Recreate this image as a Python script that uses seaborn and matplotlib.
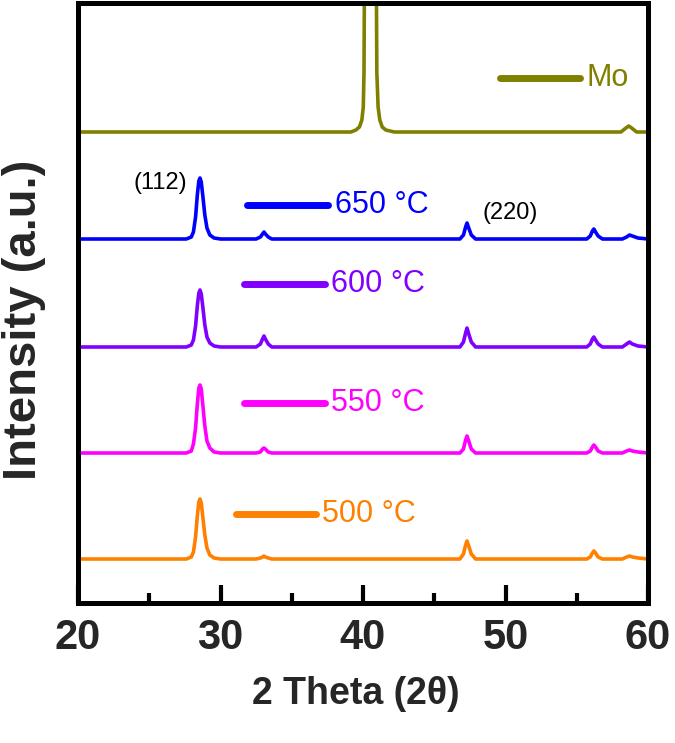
import matplotlib
matplotlib.use("Agg")
import numpy as np
import pandas as pd
import seaborn as sns
import matplotlib.pyplot as plt
from matplotlib.ticker import MultipleLocator

# ---------------- data ----------------
# CZTS samples share one 2-theta grid; intensities in arbitrary units above each baseline
two_theta = [20, 27.6, 27.95, 28.1, 28.25, 28.38, 28.48, 28.56, 28.65, 28.76, 28.9, 29.05, 29.25, 29.55, 30.0,
             32.5, 32.8, 32.95, 33.05, 33.15, 33.35, 33.6,
             46.8, 47.05, 47.2, 47.3, 47.42, 47.6, 47.9,
             55.7, 55.95, 56.1, 56.2, 56.32, 56.5, 56.8,
             58.2, 58.5, 58.7, 58.9, 59.3, 60]
int_650 = [0, 0, 2, 7, 22, 45, 58, 61, 57, 43, 24, 11, 4, 1, 0,
           0, 2, 5, 7, 5, 2, 0,
           0, 4, 12, 16, 11, 4, 0,
           0, 3, 8, 10, 7, 3, 0,
           0, 2, 4, 3, 1, 0]
int_600 = [0, 0, 2, 7, 21, 42, 54, 57, 53, 40, 22, 10, 4, 1, 0,
           0, 3, 8, 11, 8, 3, 0,
           0, 5, 14, 19, 13, 5, 0,
           0, 3, 8, 10, 7, 3, 0,
           0, 3, 5, 3, 1, 0]
int_550 = [0, 0, 2, 9, 25, 50, 65, 68, 64, 48, 27, 12, 5, 1, 0,
           0, 1, 4, 5, 4, 1, 0,
           0, 4, 13, 17, 12, 4, 0,
           0, 2, 6, 8, 6, 2, 0,
           0, 2, 3, 2, 1, 0]
int_500 = [0, 0, 2, 7, 22, 44, 57, 60, 56, 42, 24, 11, 4, 1, 0,
           0, 1, 2, 3, 2, 1, 0,
           0, 5, 14, 18, 13, 5, 0,
           0, 2, 6, 8, 6, 2, 0,
           0, 2, 3, 2, 1, 0]

mo_two_theta = [20, 39.15, 39.5, 39.75, 39.92, 40.02, 40.07, 40.12, 40.52, 40.92, 40.97,
                41.06, 41.18, 41.35, 41.6, 41.9, 42.2,
                58.1, 58.45, 58.65, 58.85, 59.2, 60]
mo_int = [0, 0, 2, 5, 12, 25, 60, 200, 900, 200, 60,
          25, 12, 5, 2, 1, 0,
          0, 4, 6, 4, 0, 0]

samples = ["500 °C", "550 °C", "600 °C", "650 °C", "Mo"]
offsets = [44, 150, 256, 364, 471]
colors = ["#FF8000", "#FF00FF", "#8000FF", "#0000FF", "#808000"]

x_ticks = [20, 30, 40, 50, 60]
x_label = "2 Theta (2θ)"
y_label = "Intensity (a.u.)"
peak_labels = ["(112)", "(220)"]

# ---------------- build long table ----------------
series = {"500 °C": (two_theta, int_500), "550 °C": (two_theta, int_550),
          "600 °C": (two_theta, int_600), "650 °C": (two_theta, int_650),
          "Mo": (mo_two_theta, mo_int)}
rows = []
for name, off in zip(samples, offsets):
    xs, ys = series[name]
    for xv, yv in zip(xs, ys):
        rows.append({"x": xv, "y": yv + off, "sample": name})
df = pd.DataFrame(rows)

# ---------------- plot ----------------
sns.set_style("white")
plt.rcParams["font.family"] = ["Liberation Sans", "DejaVu Sans"]

fig = plt.figure(figsize=(6.75, 7.43), dpi=100)
ax = fig.add_axes([78 / 675, 140 / 743, 570 / 675, 600 / 743])

sns.lineplot(data=df, x="x", y="y", hue="sample", hue_order=samples,
             palette=dict(zip(samples, colors)), estimator=None, sort=False,
             legend=False, linewidth=2.6, ax=ax)

ax.set_xlim(20, 60)
ax.set_ylim(0, 600)
ax.set_yticks([])
ax.set_xticks(x_ticks)
ax.xaxis.set_minor_locator(MultipleLocator(5))

for sp in ax.spines.values():
    sp.set_visible(True)
    sp.set_color("black")
    sp.set_linewidth(3.6)

ax.tick_params(axis="x", which="major", direction="in", length=13, width=3,
               color="black", bottom=True, top=False, pad=11, labelsize=30)
ax.tick_params(axis="x", which="minor", direction="in", length=7, width=3,
               color="black", bottom=True, top=False)
for lab in ax.get_xticklabels():
    lab.set_weight("bold")

ax.set_xlabel(x_label, fontsize=27, fontweight="bold")
ax.set_ylabel(y_label, fontsize=34, fontweight="bold")
ax.xaxis.set_label_coords(0.488, -0.122)
ax.yaxis.set_label_coords(-0.056, 0.472)

# in-plot series labels (short line + text)
label_pos = {
    "Mo": (49.6, 55.2, 525, 55.7),
    "650 °C": (31.86, 37.54, 398, 38.05),
    "600 °C": (31.65, 37.3, 319, 37.75),
    "550 °C": (31.65, 37.3, 200, 37.75),
    "500 °C": (31.1, 36.7, 89, 37.15),
}
for name, col in zip(samples, colors):
    x0, x1, yy, xt = label_pos[name]
    ax.plot([x0, x1], [yy, yy], color=col, lw=5, solid_capstyle="round")
    ax.text(xt, yy, name, color=col, fontsize=22, va="center", ha="left")

ax.text(25.75, 420, peak_labels[0], fontsize=17, ha="center", va="center", color="black")
ax.text(50.3, 390, peak_labels[1], fontsize=17, ha="center", va="center", color="black")

fig.savefig("out.png", dpi=100)
